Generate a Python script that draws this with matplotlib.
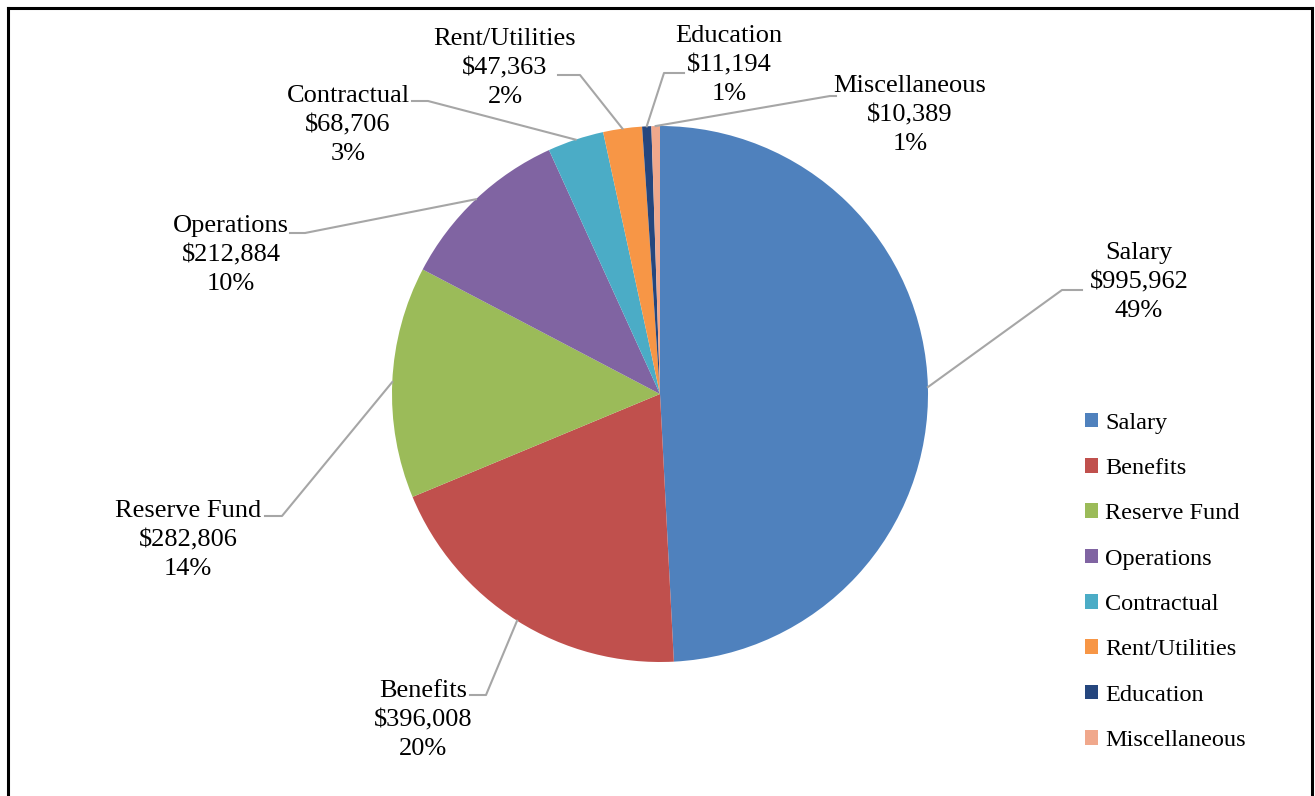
import numpy as np
import matplotlib
matplotlib.use("Agg")
import matplotlib.pyplot as plt
from matplotlib.lines import Line2D

categories = ["Salary", "Benefits", "Reserve Fund", "Operations",
              "Contractual", "Rent/Utilities", "Education", "Miscellaneous"]
amounts = [995962, 396008, 282806, 212884, 68706, 47363, 11194, 10389]
pct_labels = ["49%", "20%", "14%", "10%", "3%", "2%", "1%", "1%"]
colors = ["#4F81BD", "#C0504D", "#9BBB59", "#8064A2",
          "#4BACC6", "#F79646", "#25467E", "#F0A88C"]

# label layout in pixel coords (x, y from top): text centre, elbow, stub end
label_pos = [(1139, 282), (423, 720), (188, 540), (231, 255),
             (348, 125), (505, 68), (729, 65), (910, 115)]
elbows = [(1062, 290), (486, 695), (282, 516), (305, 233),
          (428, 101), (580, 75), (664, 73), (830, 96)]
stubs = [(1082, 290), (470, 695), (265, 516), (290, 233),
         (412, 101), (558, 75), (684, 73), (836, 96)]

W, H = 1315, 796
plt.rcParams['font.family'] = ['Liberation Serif', 'DejaVu Serif']
fig = plt.figure(figsize=(W / 100, H / 100), dpi=100)
ax = fig.add_axes([0, 0, 1, 1])

cx, cy, r = 660, H - 394, 268
wedges, _ = ax.pie(amounts, colors=colors, startangle=90, counterclock=False,
                   center=(cx, cy), radius=r, frame=True,
                   wedgeprops=dict(linewidth=0))
ax.set_xlim(0, W)
ax.set_ylim(0, H)
ax.set_aspect('equal')
ax.axis('off')

for i, w in enumerate(wedges):
    ang = np.deg2rad((w.theta1 + w.theta2) / 2)
    ex, ey = cx + r * np.cos(ang), cy + r * np.sin(ang)
    bx, by = elbows[i]
    sx, sy = stubs[i]
    ax.add_line(Line2D([ex, bx, sx], [ey, H - by, H - sy], color="#A6A6A6", lw=1.5))
    txt = f"{categories[i]}\n${amounts[i]:,}\n{pct_labels[i]}"
    tx, ty = label_pos[i]
    ax.text(tx, H - ty, txt, ha='center', va='center', fontsize=19,
            linespacing=1.42, color='black')

ax.legend(wedges, categories, loc='upper left', bbox_to_anchor=(1075 / W, 1 - 403 / H),
          frameon=False, fontsize=17.5, handlelength=0.55, handleheight=0.55,
          handletextpad=0.3, labelspacing=1.0, borderaxespad=0)

# outer border (bottom edge runs past the image)
for xs, ys in [([8, 8], [0, H - 8]), ([8, W - 3], [H - 8, H - 8]), ([W - 3, W - 3], [H - 8, 0])]:
    fig.add_artist(Line2D(np.array(xs) / W, np.array(ys) / H, color='black', lw=2.2))

fig.savefig("out.png", dpi=100)
